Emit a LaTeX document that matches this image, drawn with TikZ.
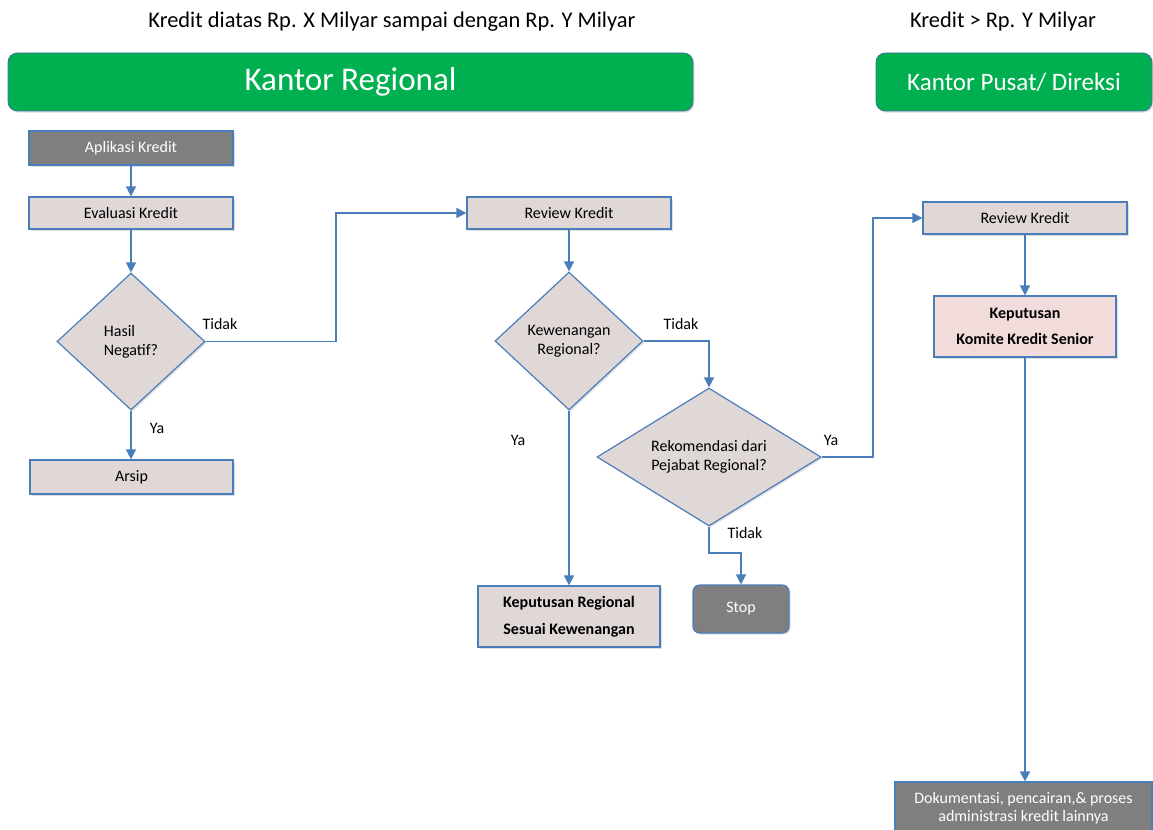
\documentclass[tikz,border=0pt]{standalone}
\usepackage{fontspec}
\setmainfont{Carlito}
\usetikzlibrary{shapes.geometric,arrows.meta,shadows}
\definecolor{lineblue}{HTML}{4A7EBB}
\definecolor{boxfill}{HTML}{E0D7D7}
\definecolor{pinkfill}{HTML}{F2DCDB}
\definecolor{darkgray}{HTML}{7F7F7F}
\definecolor{hdrgreen}{HTML}{00B050}
\definecolor{hdrborder}{HTML}{41719C}
\begin{document}
\begin{tikzpicture}[x=0.75pt,y=-0.75pt,
  shad/.style={drop shadow={opacity=0.25,shadow xshift=1.2pt,shadow yshift=-1.2pt}},
  proc/.style={rectangle,draw=lineblue,line width=0.9pt,fill=boxfill,inner sep=0pt,
    font=\fontsize{12}{14.4}\selectfont,shad},
  greybox/.style={proc,fill=darkgray,text=white},
  pinkbox/.style={proc,fill=pinkfill},
  decision/.style={diamond,draw=lineblue,line width=0.9pt,fill=boxfill,inner sep=0pt,
    font=\fontsize{12}{14.4}\selectfont,shad},
  header/.style={rectangle,rounded corners=7pt,draw=hdrborder,line width=0.6pt,fill=hdrgreen,
    text=white,inner sep=0pt,shad},
  arr/.style={draw=lineblue,line width=1.1pt,-{Triangle[length=7.5pt,width=7.5pt]}},
  lbl/.style={font=\fontsize{12}{14.4}\selectfont,inner sep=0pt},
  toplbl/.style={font=\fontsize{16.8}{20}\selectfont,inner sep=0pt}
]
\useasboundingbox (0,0) rectangle (1153,830);

% top captions
\node[toplbl] (cap1) at (392,22) {Kredit diatas Rp. X Milyar sampai dengan Rp. Y Milyar};
\node[toplbl] (cap2) at (1003,22) {Kredit > Rp. Y Milyar};

% header bars
\node[header,minimum width=513.75pt,minimum height=43.5pt,font=\fontsize{24.8}{29}\selectfont] (kreg) at (350.5,82) {Kantor Regional};
\node[header,minimum width=207pt,minimum height=43.5pt,font=\fontsize{18.8}{22}\selectfont] (kpus) at (1014,82) {Kantor Pusat/ Direksi};

% left column
\node[greybox,minimum width=153pt,minimum height=25.5pt] (apl) at (131,148) {Aplikasi Kredit};
\node[proc,minimum width=153pt,minimum height=24pt] (eval) at (131,213) {Evaluasi Kredit};
\node[decision,minimum width=111pt,minimum height=102.75pt,shape aspect=1.08,align=left] (hasil) at (131,341.5) {Hasil\\Negatif?};
\node[proc,minimum width=152.25pt,minimum height=25.5pt] (arsip) at (131.5,477) {Arsip};

% middle column
\node[proc,minimum width=153pt,minimum height=24pt] (rev1) at (569,213) {Review Kredit};
\node[decision,minimum width=111pt,minimum height=103.5pt,shape aspect=1.07,align=center] (kew) at (569,341) {Kewenangan\\Regional?};
\node[decision,minimum width=168pt,minimum height=103.5pt,shape aspect=1.62,align=center] (rek) at (709,457) {Rekomendasi dari\\Pejabat Regional?};
\node[proc,minimum width=136.5pt,minimum height=45.75pt,align=center,font=\fontsize{12}{14.4}\selectfont\bfseries] (kepreg) at (569,616.5) {Keputusan Regional\\[5.6pt]Sesuai Kewenangan};
\node[greybox,rounded corners=5pt,minimum width=72pt,minimum height=36pt] (stop) at (741,609) {Stop};

% right column
\node[proc,minimum width=153pt,minimum height=24pt] (rev2) at (1025,218) {Review Kredit};
\node[pinkbox,minimum width=136.5pt,minimum height=45.75pt,align=center,font=\fontsize{12}{14.4}\selectfont\bfseries] (komite) at (1025,326.5) {Keputusan\\[5.6pt]Komite Kredit Senior};
\node[greybox,minimum width=192.75pt,minimum height=39pt,align=center,font=\fontsize{12}{13.5}\selectfont] (dok) at (1023.5,808) {Dokumentasi, pencairan,\& proses\\administrasi kredit lainnya};

% junction coordinates
\coordinate (j1) at (336,341.5);
\coordinate (j2) at (873,457);
\coordinate (j3) at (709,553);

% connectors
\draw[arr] (apl.south) -- (eval.north);
\draw[arr] (eval.south) -- (hasil.north);
\draw[arr] (hasil.south) -- (hasil.south |- arsip.north);
\draw[arr] (hasil.east) -- (j1) |- (rev1.west);
\draw[arr] (rev1.south) -- (kew.north);
\draw[arr] (kew.east) -| (rek.north);
\draw[arr] (kew.south) -- (kepreg.north);
\draw[arr] (rek.east) -- (j2) |- (rev2.west);
\draw[arr] (rek.south) -- (j3) -| (stop.north);
\draw[arr] (rev2.south) -- (komite.north);
\draw[arr] (komite.south) -- (komite.south |- dok.north);

% connector labels
\node[lbl] (l1) at (220,324) {Tidak};
\node[lbl] (l2) at (157,428) {Ya};
\node[lbl] (l3) at (681,324) {Tidak};
\node[lbl] (l4) at (518,440) {Ya};
\node[lbl] (l5) at (831,440) {Ya};
\node[lbl] (l6) at (745,533) {Tidak};
\end{tikzpicture}
\end{document}
